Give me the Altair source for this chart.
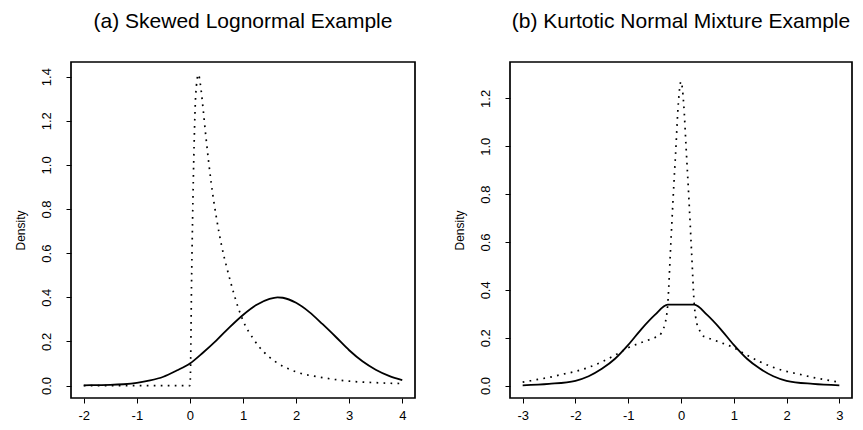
import altair as alt
import pandas as pd

# ---- data ----
# (a) skewed lognormal example
a_solid_x = [-2, -1.75, -1.5, -1.25, -1, -0.75, -0.5, -0.25, 0, 0.25, 0.5, 0.75, 1, 1.25, 1.5, 1.65,
             1.75, 2, 2.25, 2.5, 2.75, 3, 3.25, 3.5, 3.75, 4]
a_solid_y = [0.001, 0.002, 0.003, 0.006, 0.012, 0.023, 0.04, 0.068, 0.10, 0.15, 0.205, 0.265, 0.32,
             0.365, 0.393, 0.40, 0.398, 0.375, 0.333, 0.278, 0.22, 0.16, 0.11, 0.072, 0.044, 0.025]
a_dot_x = [-2, 0, 0.01, 0.03, 0.05, 0.08, 0.11, 0.16, 0.2, 0.25, 0.3, 0.35, 0.4, 0.5, 0.6, 0.7, 0.8,
           0.9, 1.0, 1.2, 1.4, 1.6, 1.8, 2.0, 2.5, 3.0, 3.5, 4.0]
a_dot_y = [0, 0, 0.05, 0.45, 0.75, 1.1, 1.32, 1.41, 1.36, 1.25, 1.13, 1.02, 0.92, 0.76, 0.63, 0.53,
           0.44, 0.36, 0.295, 0.21, 0.15, 0.11, 0.082, 0.062, 0.036, 0.02, 0.013, 0.009]

# (b) kurtotic normal mixture example
b_solid_x = [-3, -2.5, -2, -1.75, -1.5, -1.25, -1, -0.75, -0.5, -0.25, 0, 0.25, 0.5, 0.75, 1, 1.25,
             1.5, 1.75, 2, 2.5, 3]
b_solid_y = [0.001, 0.007, 0.02, 0.039, 0.07, 0.112, 0.17, 0.236, 0.294, 0.338, 0.338, 0.338, 0.294,
             0.236, 0.17, 0.112, 0.07, 0.039, 0.02, 0.007, 0.001]
b_dot_x = [-3, -2.75, -2.5, -2.25, -2, -1.75, -1.5, -1.25, -1, -0.75, -0.5, -0.4, -0.35, -0.3, -0.25,
           -0.2, -0.15, -0.1, -0.05, 0, 0.05, 0.1, 0.15, 0.2, 0.25, 0.3, 0.35, 0.4, 0.5, 0.75, 1, 1.25,
           1.5, 1.75, 2, 2.25, 2.5, 2.75, 3]
b_dot_y = [0.014, 0.024, 0.034, 0.047, 0.059, 0.076, 0.099, 0.127, 0.158, 0.18, 0.2, 0.21, 0.232, 0.26,
           0.343, 0.56, 0.78, 0.98, 1.18, 1.27, 1.18, 0.98, 0.78, 0.56, 0.343, 0.26, 0.232, 0.21, 0.2,
           0.18, 0.158, 0.127, 0.099, 0.076, 0.059, 0.047, 0.034, 0.024, 0.014]

titles = ["(a) Skewed Lognormal Example", "(b) Kurtotic Normal Mixture Example"]
a_xticks = [-2, -1, 0, 1, 2, 3, 4]
b_xticks = [-3, -2, -1, 0, 1, 2, 3]
a_yticks = [0, 0.2, 0.4, 0.6, 0.8, 1.0, 1.2, 1.4]
b_yticks = [0, 0.2, 0.4, 0.6, 0.8, 1.0, 1.2]

FONT = "Liberation Sans"


def panel(title, sx, sy, dx, dy, xdom, ydom, xt, yt, w, h, title_x):
    solid = pd.DataFrame({"x": sx, "y": sy})
    dots = pd.DataFrame({"x": dx, "y": dy})
    xenc = alt.X("x:Q", scale=alt.Scale(domain=xdom, nice=False, zero=False),
                 axis=alt.Axis(values=xt, title=None, labelPadding=6,
                               labelExpr="'' + datum.value"))
    yenc = alt.Y("y:Q", scale=alt.Scale(domain=ydom, nice=False, zero=False),
                 axis=alt.Axis(values=yt, format=".1f", title="Density",
                               labelAngle=270, labelAlign="center", labelBaseline="bottom",
                               labelPadding=13, titleAngle=270, titleX=title_x, titleY=h / 2,
                               titleAlign="center", titleBaseline="middle"))
    l1 = alt.Chart(solid).mark_line(color="black", strokeWidth=1.8, clip=True,
                                    interpolate="monotone").encode(x=xenc, y=yenc)
    l2 = alt.Chart(dots).mark_line(color="black", strokeWidth=1.7, strokeDash=[1.7, 5.3],
                                   clip=True, interpolate="monotone").encode(x=xenc, y=yenc)
    return alt.layer(l1, l2).properties(
        width=w, height=h,
        title=alt.TitleParams(title, fontSize=21, font=FONT, fontWeight="normal",
                              anchor="middle", offset=30, color="black"))


left = panel(titles[0], a_solid_x, a_solid_y, a_dot_x, a_dot_y, [-2.24, 4.24],
             [-0.0564, 1.4664], a_xticks, a_yticks, 344, 336, -51)
right = panel(titles[1], b_solid_x, b_solid_y, b_dot_x, b_dot_y, [-3.24, 3.24],
              [-0.052, 1.352], b_xticks, b_yticks, 342, 336, -51)

chart = alt.hconcat(left, right, spacing=36).properties(
    padding={"left": 5, "top": 2, "right": 0, "bottom": 5}
).configure_view(stroke="black", strokeWidth=1.7).configure_axis(
    domain=False, grid=False, ticks=True, tickSize=5, tickColor="black", tickWidth=1,
    labelColor="black", labelFontSize=13, labelFont=FONT,
    titleColor="black", titleFontSize=12, titleFont=FONT, titleFontWeight="normal"
)

chart.save("out.html", embed_options={"renderer": "svg", "actions": False})
